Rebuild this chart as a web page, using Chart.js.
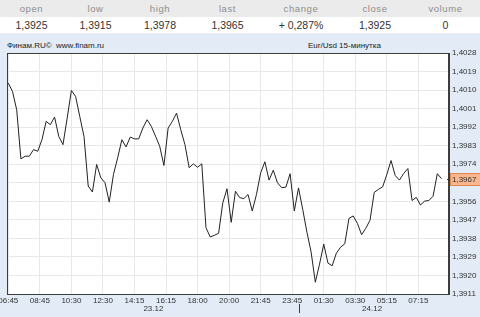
<!DOCTYPE html>
<html>
<head>
<meta charset="utf-8">
<script src="https://cdn.jsdelivr.net/npm/chart.js@4"></script>
<style>
    body { margin: 0; width: 480px; height: 317px; overflow: hidden; position: relative;
           background: #e3ebf6; font-family: 'Liberation Sans', Arial, sans-serif; }
    #quote { position: absolute; left: 0; top: 0; width: 480px; border-collapse: collapse; table-layout: fixed; }
    #quote td { padding: 0; text-align: center; white-space: nowrap; }
    #quote .lbl td { height: 17px; background: #ebebeb; color: #8e8e8e; font-size: 9.5px; letter-spacing: 0.6px; }
    #quote .val td { height: 16px; background: #fff; color: #333; font-size: 10.5px; }
    #quote .up { color: #3b9a3b; }
    .cap { position: absolute; top: 41px; font-size: 8px; color: #222; white-space: nowrap; }
    #wrap { position: absolute; left: 0; top: 33px; width: 480px; height: 284px; }
</style>
</head>
<body>
<table id="quote">
    <colgroup><col style="width:63px"><col style="width:65px"><col style="width:64px"><col style="width:71px"><col style="width:76px"><col style="width:72px"><col style="width:69px"></colgroup>
    <tr class="lbl" id="quote-labels"></tr>
    <tr class="val" id="quote-values"></tr>
</table>
<div class="cap" style="left:7px">Финам.RU©&nbsp; www.finam.ru</div>
<div class="cap" style="left:308px">Eur/Usd 15-минутка</div>
<div id="wrap"><canvas id="chart"></canvas></div>

<script>
// --- Quote header ---
const quoteLabels = ['open', 'low', 'high', 'last', 'change', 'close', 'volume'];
const quoteValues = ['1,3925', '1,3915', '1,3978', '1,3965', '+ 0,287%', '1,3925', '0'];

// --- Chart data (15-minute closes, 06:45 23.12 -> 07:30 24.12) ---
const prices = [
    1.40134, 1.40093, 1.40004, 1.39766, 1.39779, 1.39779, 1.39811, 1.39803, 1.39859, 1.39948,
    1.39932, 1.39969, 1.39875, 1.39835, 1.39964, 1.40098, 1.40069, 1.39971, 1.39875, 1.39634,
    1.39605, 1.39739, 1.39674, 1.39650, 1.39556, 1.39690, 1.39771, 1.39859, 1.39824, 1.39872,
    1.39863, 1.39863, 1.39916, 1.39956, 1.39924, 1.39876, 1.39827, 1.39734, 1.39916, 1.39948,
    1.39988, 1.39908, 1.39835, 1.39723, 1.39742, 1.39725, 1.39742, 1.39432, 1.39387, 1.39395,
    1.39405, 1.39553, 1.39621, 1.39458, 1.39609, 1.39578, 1.39573, 1.39593, 1.39513, 1.39593,
    1.39698, 1.39752, 1.39663, 1.39711, 1.39650, 1.39626, 1.39629, 1.39694, 1.39513, 1.39625,
    1.39521, 1.39410, 1.39313, 1.39167, 1.39255, 1.39352, 1.39260, 1.39247, 1.39308, 1.39337,
    1.39354, 1.39477, 1.39489, 1.39453, 1.39398, 1.39429, 1.39468, 1.39603, 1.39618, 1.39630,
    1.39690, 1.39758, 1.39685, 1.39663, 1.39695, 1.39719, 1.39564, 1.39579, 1.39542, 1.39561,
    1.39564, 1.39585, 1.39694, 1.39670
];
const timeLabels = ['06:45', '08:45', '10:30', '12:30', '14:15', '16:15', '18:00', '20:00',
                    '21:45', '23:45', '01:30', '03:30', '05:15', '07:15'];
const yTicks = [1.3911, 1.3920, 1.3929, 1.3938, 1.3947, 1.3956, 1.3965, 1.3974,
                1.3983, 1.3992, 1.4001, 1.4010, 1.4019, 1.4028];
const days = ['23.12', '24.12'];
const dayStarts = [0, 69]; // bar index where each day begins

const BARS_PER_LABEL = 7.5;
const fmt = (v) => v.toFixed(4).replace('.', ',');

// fill header rows
document.getElementById('quote-labels').innerHTML = quoteLabels.map(l => `<td>${l}</td>`).join('');
document.getElementById('quote-values').innerHTML = quoteValues
    .map(v => `<td${v.startsWith('+') ? ' class="up"' : ''}>${v}</td>`).join('');

// plot frame, white background, day labels and the last-price tag
const framePlugin = {
    id: 'frame',
    beforeDraw(chart) {
        const { ctx, chartArea: a } = chart;
        ctx.save();
        ctx.fillStyle = '#ffffff';
        ctx.fillRect(a.left, a.top, a.right - a.left, a.bottom - a.top);
        ctx.restore();
    },
    afterDraw(chart) {
        const { ctx, chartArea: a, scales } = chart;
        ctx.save();
        ctx.strokeStyle = '#3c3c3c';
        ctx.lineWidth = 1;
        ctx.strokeRect(a.left + 0.5, a.top + 0.5, a.right - a.left - 1, a.bottom - a.top);

        // day captions under the time labels
        ctx.fillStyle = '#333';
        ctx.font = '8px "Liberation Sans", Arial, sans-serif';
        ctx.textAlign = 'center';
        ctx.textBaseline = 'middle';
        days.forEach((d, i) => {
            const end = i + 1 < dayStarts.length ? dayStarts[i + 1] : prices.length;
            const x = scales.x.getPixelForValue((dayStarts[i] + end) / 2);
            ctx.fillText(d, x, a.bottom + 15);
        });
        // day separator mark
        for (let i = 1; i < dayStarts.length; i++) {
            const x = Math.round(scales.x.getPixelForValue(dayStarts[i])) + 0.5;
            ctx.beginPath();
            ctx.moveTo(x, a.bottom + 10);
            ctx.lineTo(x, a.bottom + 19);
            ctx.stroke();
        }

        // last price tag
        const last = prices[prices.length - 1];
        const y = Math.round(scales.y.getPixelForValue(last));
        ctx.fillStyle = '#f8b68e';
        ctx.strokeStyle = '#e4874e';
        ctx.fillRect(a.right + 1, y - 6, chart.width - a.right - 1, 13);
        ctx.strokeRect(a.right + 1.5, y - 5.5, chart.width - a.right - 1, 12);
        ctx.strokeStyle = '#333';
        ctx.beginPath();
        ctx.moveTo(a.right - 2, y + 0.5);
        ctx.lineTo(a.right + 1, y + 0.5);
        ctx.stroke();
        ctx.fillStyle = '#333';
        ctx.textAlign = 'left';
        ctx.fillText(fmt(last), a.right + 3, y + 1);
        ctx.restore();
    }
};

const ctx = document.getElementById('chart').getContext('2d');
const priceChart = new Chart(ctx, {
    type: 'line',
    data: {
        datasets: [{
            data: prices.map((p, i) => ({ x: i, y: p })),
            borderColor: '#222',
            borderWidth: 1,
            pointRadius: 0,
            tension: 0
        }]
    },
    options: {
        responsive: true,
        maintainAspectRatio: false,
        animation: false,
        layout: { padding: { top: 20, left: 7, right: 0, bottom: 0 } },
        plugins: { legend: { display: false }, tooltip: { enabled: false } },
        scales: {
            x: {
                type: 'linear',
                min: -0.31,
                max: 104.78,
                afterBuildTicks: (s) => {
                    s.ticks = timeLabels.map((_, i) => ({ value: i * BARS_PER_LABEL }));
                },
                afterFit: (s) => { s.height = 23; s.paddingLeft = 0; s.paddingRight = 0; },
                grid: { color: '#e8e8e8', drawTicks: false },
                border: { color: '#3c3c3c' },
                ticks: {
                    autoSkip: false,
                    maxRotation: 0,
                    padding: 2,
                    color: '#333',
                    font: { family: 'Liberation Sans', size: 8 },
                    callback: (v, i) => timeLabels[i]
                }
            },
            y: {
                position: 'right',
                min: yTicks[0],
                max: yTicks[yTicks.length - 1],
                afterBuildTicks: (s) => { s.ticks = yTicks.map(v => ({ value: v })); },
                afterFit: (s) => { s.width = 31; s.paddingTop = 0; s.paddingBottom = 0; },
                grid: { color: '#e8e8e8', drawTicks: false },
                border: { color: '#3c3c3c' },
                ticks: {
                    padding: 3,
                    color: '#333',
                    font: { family: 'Liberation Sans', size: 8 },
                    callback: (v) => fmt(v)
                }
            }
        }
    },
    plugins: [framePlugin]
});
</script>
</body>
</html>
